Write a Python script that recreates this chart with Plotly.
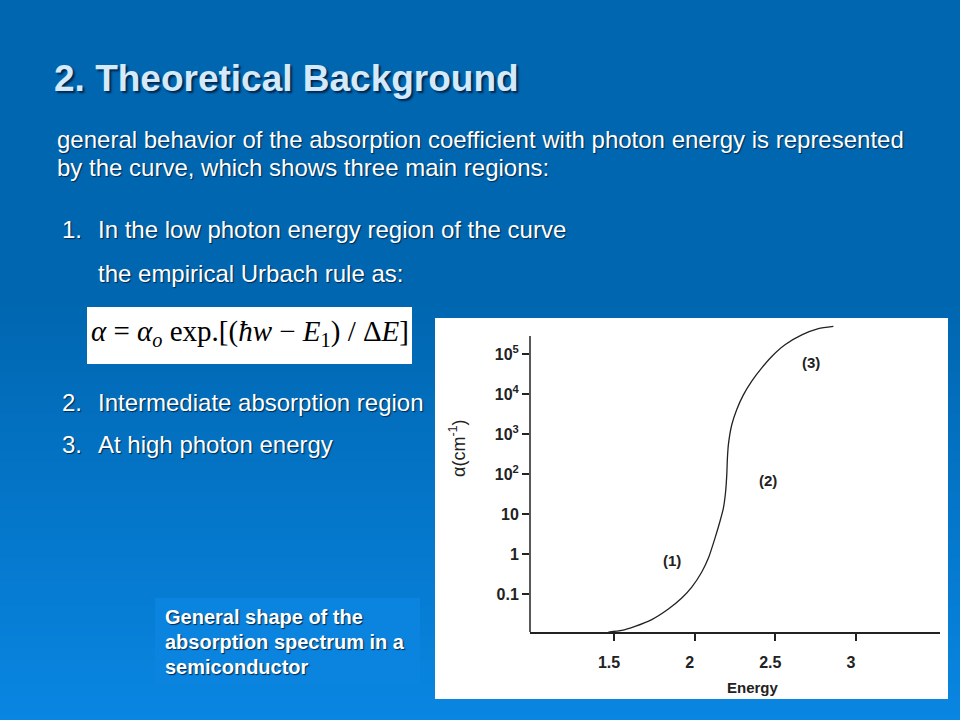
import math
import plotly.graph_objects as go

# ---------------- data ----------------
energy = [1.465, 1.548, 1.630, 1.734, 1.837, 1.920, 1.982, 2.044, 2.085, 2.126,
          2.157, 2.178, 2.192, 2.199, 2.203, 2.209, 2.230, 2.261, 2.302, 2.354,
          2.416, 2.478, 2.560, 2.664, 2.767, 2.860]
alpha = [0.0112, 0.0123, 0.0155, 0.0229, 0.042, 0.079, 0.148, 0.355, 0.79, 2.5,
         6.6, 14, 37, 95, 250, 540, 1700, 4100, 9500, 21000,
         45000, 87000, 170000, 300000, 430000, 490000]

x_tickvals = [1.5, 2, 2.5, 3]
x_ticktext = ["1.5", "2", "2.5", "3"]
y_tickvals = [0.1, 1, 10, 100, 1000, 10000, 100000]
y_ticktext = ["0.1", "1", "10", "10<sup>2</sup>", "10<sup>3</sup>", "10<sup>4</sup>", "10<sup>5</sup>"]

region_labels = ["(1)", "(2)", "(3)"]
region_x = [1.86, 2.455, 2.72]
region_y = [0.67, 67, 60000]

title_text = "2. Theoretical Background"
intro_lines = ["general behavior of the absorption coefficient with photon energy is represented",
               "by the curve, which shows three main regions:"]
list_nums = ["1.", "", "2.", "3."]
list_lines = ["In the low photon energy region of the curve",
              "the empirical Urbach rule as:",
              "Intermediate absorption region",
              "At high photon energy"]
caption_lines = ["General shape of the", "absorption spectrum in a", "semiconductor"]

# ---------------- layout helpers ----------------
W, H = 960, 720
def px(x):
    return x / W
def py(y):
    return 1 - y / H

SANS = "Liberation Sans, Arial, sans-serif"
SERIF = "Liberation Serif, Times New Roman, serif"
INK = "#222222"

fig = go.Figure()

fig.add_trace(go.Scatter(
    x=energy, y=alpha, mode="lines",
    line=dict(color=INK, width=1.3, shape="spline", smoothing=0.6),
    hoverinfo="skip", showlegend=False,
))

shapes = []
# background gradient strips
top_c = (0x00, 0x66, 0xB0)
bot_c = (0x09, 0x86, 0xE2)
y_start, y_end, step = 300, 720, 6
for y0 in range(y_start, y_end, step):
    f = (y0 + step / 2 - y_start) / (y_end - y_start)
    c = tuple(round(a + (b - a) * f) for a, b in zip(top_c, bot_c))
    shapes.append(dict(type="rect", xref="paper", yref="paper",
                       x0=0, x1=1, y0=py(y0 + step + 0.5), y1=py(y0),
                       fillcolor="rgb(%d,%d,%d)" % c, line=dict(width=0), layer="below"))
# white image box for the chart
shapes.append(dict(type="rect", xref="paper", yref="paper",
                   x0=px(435), x1=px(948), y0=py(699), y1=py(318),
                   fillcolor="white", line=dict(width=0), layer="below"))
# formula box
shapes.append(dict(type="rect", xref="paper", yref="paper",
                   x0=px(87), x1=px(412), y0=py(364), y1=py(307),
                   fillcolor="white", line=dict(width=0), layer="below"))
# caption box
shapes.append(dict(type="rect", xref="paper", yref="paper",
                   x0=px(155), x1=px(420), y0=py(684), y1=py(598),
                   fillcolor="#0A84DF", line=dict(width=0), layer="below"))
# y axis line (shorter than plot domain, as in the figure)
shapes.append(dict(type="line", xref="paper", yref="paper",
                   x0=px(530), x1=px(530), y0=py(632), y1=py(336),
                   line=dict(color=INK, width=1.5), layer="above"))

ann = []
def text(x, y, s, size, color="white", bold=False, family=SANS, shadow="1px 1px 1px #002850",
         xanchor="left"):
    ann.append(dict(x=px(x), y=py(y), xref="paper", yref="paper", text=s, showarrow=False,
                    xanchor=xanchor, yanchor="middle",
                    font=dict(family=family, size=size, color=color,
                              weight="bold" if bold else "normal", shadow=shadow)))

text(52, 78, title_text, 37, color="#D4EAFA", bold=True, shadow="2px 2px 2px #00254d")
text(55, 139, intro_lines[0], 24)
text(55, 167, intro_lines[1], 24)
list_y = [229, 273, 402, 444]
for n, s, yy in zip(list_nums, list_lines, list_y):
    if n:
        text(60, yy, n, 24)
    text(96, yy, s, 24)
for s, yy in zip(caption_lines, [617, 642, 667]):
    text(163, yy, s, 20, bold=True)

# formula
ann.append(dict(x=px(250), y=py(333), xref="paper", yref="paper", showarrow=False,
                xanchor="center", yanchor="middle",
                text="<i>α</i> = <i>α</i><sub><i>o</i></sub> exp.[(<i>ħw</i> − <i>E</i><sub>1</sub>) / Δ<i>E</i>]",
                font=dict(family=SERIF, size=29, color="black")))

# chart axis titles
ann.append(dict(x=px(457), y=py(448), xref="paper", yref="paper", showarrow=False,
                text="α(cm<sup>-1</sup>)", textangle=-90, xanchor="center", yanchor="middle",
                font=dict(family=SANS, size=18, color=INK)))
ann.append(dict(x=px(753), y=py(687), xref="paper", yref="paper", showarrow=False,
                text="Energy", xanchor="center", yanchor="middle",
                font=dict(family=SANS, size=15, color=INK, weight="bold")))

# region labels in data coordinates
for s, xx, yy in zip(region_labels, region_x, region_y):
    ann.append(dict(x=xx, y=math.log10(yy), xref="x", yref="y", text=s, showarrow=False,
                    font=dict(family=SANS, size=15, color=INK, weight="bold")))

fig.update_layout(
    width=W, height=H,
    margin=dict(l=0, r=0, t=0, b=0),
    paper_bgcolor="#0066B0",
    plot_bgcolor="rgba(0,0,0,0)",
    shapes=shapes,
    annotations=ann,
    showlegend=False,
    xaxis=dict(domain=[px(530), px(940)], range=[0.979, 3.521],
               showgrid=False, zeroline=False,
               showline=True, linecolor=INK, linewidth=1.5,
               ticks="outside", ticklen=7, tickwidth=1.5, tickcolor=INK,
               tickvals=x_tickvals, ticktext=x_ticktext, ticklabelshift=-5,
               ticklabelstandoff=8,
               tickfont=dict(family=SANS, size=16, color=INK, weight="bold"),
               anchor="y", fixedrange=True),
    yaxis=dict(domain=[py(632), py(320)], type="log", range=[-1.95, 5.85],
               showgrid=False, zeroline=False, showline=False,
               ticks="outside", ticklen=7, tickwidth=1.5, tickcolor=INK,
               tickvals=y_tickvals, ticktext=y_ticktext,
               tickfont=dict(family=SANS, size=16, color=INK, weight="bold"),
               anchor="x", fixedrange=True),
)

fig.write_html(
    "out.html",
    config={"displayModeBar": False},
    post_script="document.body.style.margin='0';document.body.style.overflow='hidden';",
)
